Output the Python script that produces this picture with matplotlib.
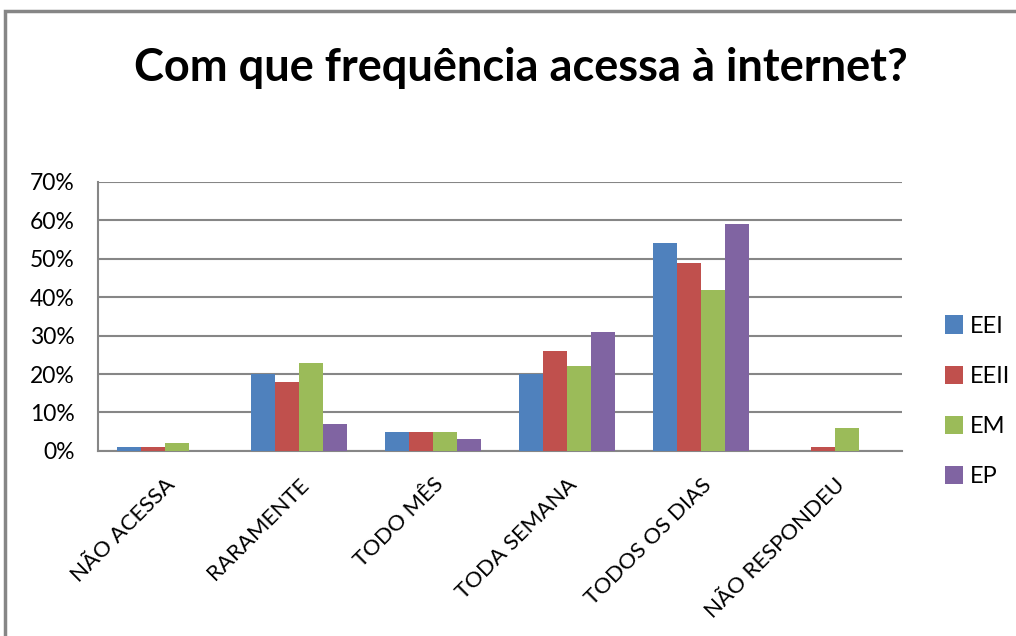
import matplotlib
matplotlib.use('Agg')
import matplotlib.pyplot as plt
import numpy as np
from matplotlib.patches import Rectangle

categorias = ['NÃO ACESSA', 'RARAMENTE', 'TODO MÊS', 'TODA SEMANA', 'TODOS OS DIAS', 'NÃO RESPONDEU']
eei = [1, 20, 5, 20, 54, 0]
eeii = [1, 18, 5, 26, 49, 1]
em = [2, 23, 5, 22, 42, 6]
ep = [0, 7, 3, 31, 59, 0]
series = ['EEI', 'EEII', 'EM', 'EP']
cores = ['#4f81bd', '#c0504d', '#9bbb59', '#8064a2']

plt.rcParams['font.family'] = ['Lato', 'DejaVu Sans']

fig = plt.figure(figsize=(10.16, 6.36), dpi=100)
ax = fig.add_axes([0.0965, 0.291, 0.7915, 0.423])

x = np.arange(len(categorias))
w = 0.18
for i, (nome, vals) in enumerate(zip(series, [eei, eeii, em, ep])):
    ax.bar(x + (i - 1.5) * w, vals, w, color=cores[i], label=nome, zorder=3)

ax.set_xlim(-0.5, len(categorias) - 0.5)
ax.set_ylim(0, 70)
ax.set_yticks(range(0, 71, 10))
ax.set_yticklabels(['%d%%' % v for v in range(0, 71, 10)], fontsize=16.5)
ax.set_xticks(x)
ax.set_xticklabels(categorias, rotation=45, ha='right', rotation_mode='anchor', fontsize=16)
ax.tick_params(axis='y', length=0, pad=17)
ax.tick_params(axis='x', length=0, pad=17)
ax.grid(axis='y', color='#868686', lw=1.5, zorder=0)
for s in ['top', 'right']:
    ax.spines[s].set_visible(False)
for s in ['left', 'bottom']:
    ax.spines[s].set_color('#868686')
    ax.spines[s].set_linewidth(1.5)

ax.legend(loc='center left', bbox_to_anchor=(1.053, 0.185), frameon=False, borderpad=0,
          borderaxespad=0, fontsize=17, handlelength=0.75, handleheight=0.8,
          labelspacing=1.22, handletextpad=0.3)

fig.text(0.513, 0.893, 'Com que frequência acessa à internet?', ha='center', va='center',
         fontsize=32.5, fontweight='bold')

fig.patches.append(Rectangle((0.005, -0.05), 1.2, 1.033, transform=fig.transFigure,
                             fill=False, edgecolor='#868686', lw=2.5))

fig.savefig('out.png', dpi=100)
